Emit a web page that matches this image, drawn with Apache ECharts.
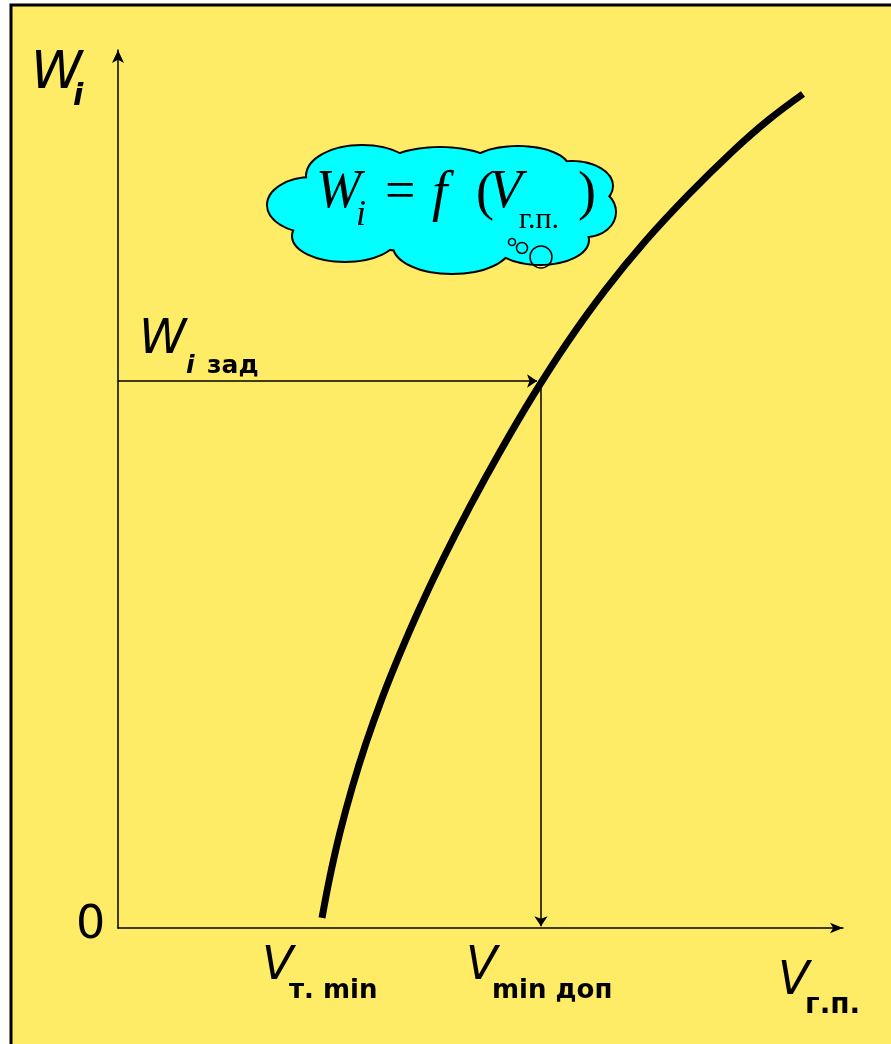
<!DOCTYPE html>
<html>
<head>
<meta charset="utf-8">
<script src="https://cdn.jsdelivr.net/npm/echarts@6/dist/echarts.min.js"></script>
<style>
  html, body { margin: 0; padding: 0; background: #ffffff; }
  #chart { width: 891px; height: 1044px; }
</style>
</head>
<body>
<div id="chart"></div>
<script>
// curve W_i = f(V_г.п.) (axis units 0..100)
const curveV = [28.14, 29.24, 30.62, 32.28, 34.21, 36.41, 38.9, 41.66, 44.83, 48.55, 52.69, 57.24, 62.07, 67.17, 72.69, 78.62, 84.83, 89.66, 94.48];
const curveW = [1.14, 5.88, 10.89, 15.95, 21.05, 26.15, 31.28, 36.51, 42.02, 48.02, 54.24, 60.63, 66.81, 72.63, 78.19, 83.47, 88.5, 92.0, 94.99];

// W_i зад and the matching V_min доп
const wTarget = 62.3;
const vMinDop = 58.34;
const vArrowEnd = 57.8;
const wDropStart = 61.5;

const chart = echarts.init(document.getElementById("chart"));

const yellow = "#FFEC66";
const cyan = "#00FFFF";
const labelFont = "DejaVu Sans";
const mathFont = "'Liberation Serif', 'DejaVu Serif', serif";

// cloud lobes: [cx, cy, rx, ry]
const lobes = [
  [312, 205, 44, 27],
  [362, 176, 55, 30],
  [440, 170, 58, 22],
  [518, 168, 50, 21],
  [572, 186, 40, 24],
  [586, 212, 29, 24],
  [540, 240, 48, 24],
  [452, 246, 58, 27],
  [345, 236, 52, 25],
  [445, 208, 150, 44],
];

const cloudStroke = lobes.map(l => ({
  type: "ellipse",
  shape: { cx: l[0], cy: l[1], rx: l[2], ry: l[3] },
  style: { fill: cyan, stroke: "#000", lineWidth: 4 },
  z: 5,
}));
const cloudFill = lobes.map(l => ({
  type: "ellipse",
  shape: { cx: l[0], cy: l[1], rx: l[2], ry: l[3] },
  style: { fill: cyan },
  z: 6,
}));
const bubbles = [
  [512, 242, 3.5],
  [522, 248, 5.5],
  [541, 257, 11],
].map(b => ({
  type: "circle",
  shape: { cx: b[0], cy: b[1], r: b[2] },
  style: { fill: "none", stroke: "#000", lineWidth: 1.5 },
  z: 8,
}));

function txt(text, x, y, font, align) {
  return {
    type: "text",
    x: x,
    y: y,
    z: 9,
    style: {
      text: text,
      font: font,
      fill: "#000",
      textAlign: align || "left",
      textVerticalAlign: "middle",
    },
  };
}

const option = {
  backgroundColor: "#ffffff",
  animation: false,
  grid: { left: 118, right: 48, top: 50, bottom: 116 },
  xAxis: {
    type: "value",
    min: 0,
    max: 100,
    axisLine: {
      onZero: false,
      symbol: ["none", "arrow"],
      symbolSize: [8, 13],
      lineStyle: { color: "#000", width: 1.5 },
    },
    axisTick: { show: false },
    axisLabel: { show: false },
    splitLine: { show: false },
  },
  yAxis: {
    type: "value",
    min: 0,
    max: 100,
    axisLine: {
      show: true,
      onZero: false,
      symbol: ["none", "arrow"],
      symbolSize: [9, 13],
      lineStyle: { color: "#000", width: 1.5 },
    },
    axisTick: { show: false },
    axisLabel: { show: false },
    splitLine: { show: false },
  },
  graphic: [
    {
      type: "rect",
      shape: { x: 11, y: 5, width: 900, height: 1060 },
      style: { fill: yellow, stroke: "#000", lineWidth: 3 },
      z: -100,
      silent: true,
    },
    ...cloudStroke,
    ...cloudFill,
    ...bubbles,
    // formula in the cloud
    txt("W", 316, 193, "italic 54px " + mathFont),
    txt("i", 356, 216, "italic 36px " + mathFont),
    txt("=", 385, 194, "54px " + mathFont),
    txt("f", 432, 195, "italic 56px " + mathFont),
    txt("(", 476, 195, "54px " + mathFont),
    txt("V", 489, 193, "italic 54px " + mathFont),
    txt("г.п.", 519, 220, "30px " + mathFont),
    txt(")", 578, 195, "54px " + mathFont),
    // axis labels
    txt("W", 31, 74, "oblique 52px " + labelFont),
    txt("i", 73, 97, "oblique bold 30px " + labelFont),
    txt("0", 76, 926, "46px " + labelFont),
    txt("W", 139, 341, "oblique 48px " + labelFont),
    txt("i", 186, 366, "oblique bold 25px " + labelFont),
    txt("зад", 207, 366, "bold 25px " + labelFont),
    txt("V", 262, 967, "oblique 46px " + labelFont),
    txt("т. min", 289, 991, "bold 26px " + labelFont),
    txt("V", 466, 967, "oblique 46px " + labelFont),
    txt("min доп", 492, 991, "bold 26px " + labelFont),
    txt("V", 778, 982, "oblique 46px " + labelFont),
    txt("г.п.", 805, 1006, "bold 28px " + labelFont),
  ],
  series: [
    {
      type: "line",
      data: curveV.map((v, i) => [v, curveW[i]]),
      smooth: 0.4,
      showSymbol: false,
      lineStyle: { color: "#000", width: 7, cap: "butt" },
      z: 3,
    },
    {
      type: "lines",
      coordinateSystem: "cartesian2d",
      symbol: ["none", "arrow"],
      symbolSize: 10,
      lineStyle: { color: "#000", width: 1.5, opacity: 1, curveness: 0 },
      data: [
        { coords: [[0, wTarget], [vArrowEnd, wTarget]] },
        { coords: [[vMinDop, wDropStart], [vMinDop, 0.2]] },
      ],
      z: 2,
    },
  ],
};

chart.setOption(option);
</script>
</body>
</html>
